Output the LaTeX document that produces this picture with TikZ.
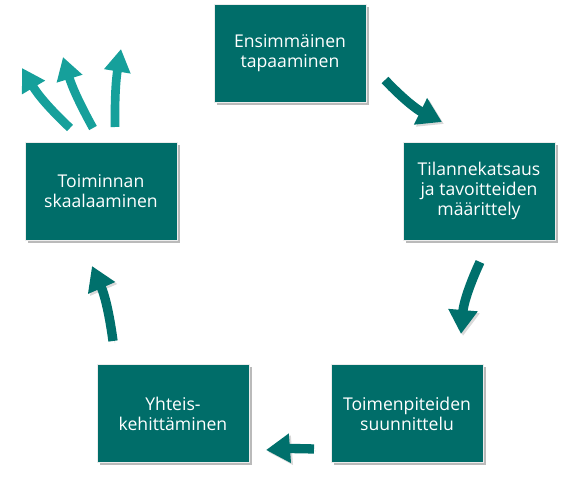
\documentclass[tikz,border=0pt]{standalone}
\usepackage{fontspec}
\setmainfont{Open Sans}
\usepackage{tikz}
\usetikzlibrary{arrows.meta,shadows}

\definecolor{tealbox}{RGB}{0,109,105}
\definecolor{tealarrow}{RGB}{0,112,108}
\definecolor{teallight}{RGB}{22,160,155}

\tikzset{
  stepbox/.style={fill=tealbox, draw=white!85!gray, line width=0.4pt, text=white, align=center,
    minimum width=114pt, minimum height=73.5pt, inner sep=2pt,
    font=\fontsize{13.2}{15}\selectfont,
    drop shadow={shadow xshift=2pt, shadow yshift=-2pt, opacity=0.45, fill=black!60}},
  cyclearrow/.style={draw=tealarrow, line width=7pt,
    -{Triangle[length=18pt, width=21pt]},
    preaction={draw=black!50, opacity=0.3, transform canvas={shift={(1.5pt,-1.5pt)}}}},
  growarrow/.style={draw=teallight, line width=6.5pt,
    -{Triangle[length=17pt, width=19pt]}}
}

\begin{document}
\begin{tikzpicture}[x=0.75pt,y=0.75pt,yscale=-1,xscale=1]
\useasboundingbox (0,0) rectangle (583,478);

% Boxes
\node [stepbox] (ensi) at (290,53.5) {Ensimmäinen\\tapaaminen};
\node [stepbox] (tila) at (479,191) {Tilannekatsaus\\ja tavoitteiden\\määrittely};
\node [stepbox] (toim) at (407,413.5) {Toimenpiteiden\\suunnittelu};
\node [stepbox] (yht) at (173,413.5) {Yhteis-\\kehittäminen};
\node [stepbox] (skaa) at (101,191) {Toiminnan\\skaalaaminen};

% Arrow end points
\coordinate (a1s) at (385,80);
\coordinate (a1e) at (442,122);
\coordinate (a2s) at (480,262);
\coordinate (a2e) at (461,334);
\coordinate (a3s) at (314,449);
\coordinate (a3e) at (266,450);
\coordinate (a4s) at (113,341);
\coordinate (a4e) at (92,266);

\coordinate (g1s) at (70,128);
\coordinate (g1e) at (22,68);
\coordinate (g2s) at (93,128);
\coordinate (g2e) at (63,57);
\coordinate (g3s) at (115,127);
\coordinate (g3e) at (121,49);

% Cycle arrows
\draw [cyclearrow] (a1s) to [bend left=10] (a1e);
\draw [cyclearrow] (a2s) to [bend left=10] (a2e);
\draw [cyclearrow] (a3s) to [bend left=3] (a3e);
\draw [cyclearrow] (a4s) to [bend left=8] (a4e);

% Growth arrows
\draw [growarrow] (g1s) to [bend right=8] (g1e);
\draw [growarrow] (g2s) to [bend right=6] (g2e);
\draw [growarrow] (g3s) to [bend right=5] (g3e);

\end{tikzpicture}
\end{document}
